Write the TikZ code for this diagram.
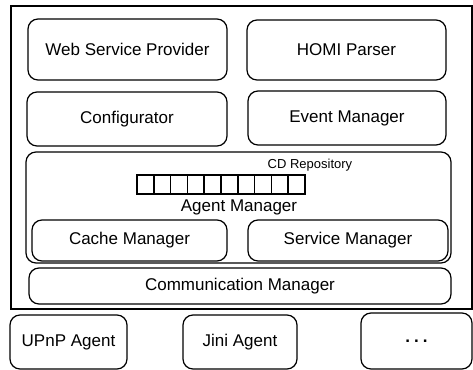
\documentclass[tikz,border=0pt]{standalone}
\usepackage{fontspec}
\setmainfont{Liberation Sans}
\usetikzlibrary{positioning}
\tikzset{
  module/.style={draw, rounded corners=5pt, line width=0.6pt, align=center, inner sep=0pt},
  cdcell/.style={draw, line width=0.8pt, minimum width=8.4pt, minimum height=9.5pt, inner sep=0pt},
}

\begin{document}
\begin{tikzpicture}[x=0.5pt, y=-0.5pt, every node/.style={font=\fontsize{8.5}{10}\selectfont}]
      \useasboundingbox (0,0) rectangle (473,370);
      % Frame
      \draw[line width=0.8pt] (11,6) rectangle (472,309);
      % Top modules
      \node[module, minimum width=99.5pt, minimum height=30.5pt] (wsp) at (127.5,49.5) {Web Service Provider};
      \node[module, minimum width=99.5pt, minimum height=30pt] (homi) at (346.5,50) {HOMI Parser};
      \node[module, minimum width=100pt, minimum height=27pt] (config) at (127,119) {Configurator};
      \node[module, minimum width=99pt, minimum height=27pt] (event) at (347,118) {Event Manager};
      % Agent manager
      \node[module, minimum width=212.5pt, minimum height=55.5pt] (agent) at (238.5,207.5) {};
      \foreach \i in {0,...,9}
        \node[cdcell] (cd\i) at ({145.4+16.8*\i},184.5) {};
      \node[font=\fontsize{6.5}{8}\selectfont, inner sep=0pt] (cdlabel) at (310,165) {CD Repository};
      \node[inner sep=0pt] (amlabel) at (239,207) {Agent Manager};
      \node[module, minimum width=97.5pt, minimum height=20.5pt] (cache) at (129.5,240.5) {Cache Manager};
      \node[module, minimum width=100pt, minimum height=20.5pt] (service) at (348,240.5) {Service Manager};
      % Communication
      \node[module, minimum width=211pt, minimum height=18pt] (comm) at (240,286) {Communication Manager};
      % Agents
      \node[module, minimum width=58.5pt, minimum height=27pt] (upnp) at (68.5,342) {UPnP Agent};
      \node[module, minimum width=57pt, minimum height=27pt] (jini) at (240,342) {Jini Agent};
      \node[module, minimum width=55.5pt, minimum height=28pt] (more) at (416.5,341) {\textbf{.\hspace{2pt}.\hspace{2pt}.}};
\end{tikzpicture}
\end{document}
